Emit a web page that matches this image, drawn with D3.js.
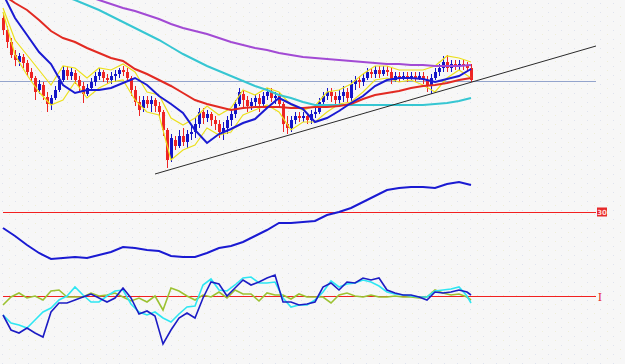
<!DOCTYPE html>
<html>
<head>
<meta charset="utf-8">
<script src="https://cdn.jsdelivr.net/npm/d3@7/dist/d3.min.js"></script>
<style>
    html, body { margin: 0; padding: 0; background: #f7f7f7; }
    svg { display: block; }
</style>
</head>
<body>
<div id="grafico"></div>
<script>
// ==================== DADOS ====================

// velas (índice 0..117)
const aberturas = [
    116.2,115.0,113.8,112.5,111.8,112.3,111.7,110.8,110.2,109.0,
    109.5,108.3,107.6,108.2,109.0,110.0,111.0,110.4,110.7,110.0,
    109.4,108.6,109.2,109.8,110.4,110.8,110.2,110.0,110.4,110.6,
    111.0,110.8,110.2,109.0,107.8,107.2,108.0,107.6,108.0,107.4,
    106.8,105.0,102.2,104.0,103.4,104.4,103.8,104.6,104.8,105.6,
    106.8,106.2,106.6,106.0,105.6,104.8,105.2,106.0,106.6,107.6,
    108.6,108.0,107.4,107.8,108.2,107.6,108.4,108.8,108.2,108.4,
    107.6,105.6,105.2,106.0,106.4,106.2,106.4,106.0,106.6,106.8,
    107.8,108.4,108.8,108.4,108.0,108.4,108.8,108.2,109.6,110.0,
    109.8,110.2,110.8,110.6,111.0,110.6,111.0,110.8,110.0,110.4,
    110.2,110.4,110.2,110.4,110.2,110.4,110.0,109.4,110.2,110.8,
    111.2,111.8,111.2,111.6,111.4,111.6,111.4,111.2
];
const maximos = [
    116.6,115.4,114.2,113.0,112.7,112.6,112.0,111.2,110.4,110.0,
    109.8,108.8,108.5,109.4,110.4,111.4,111.4,111.2,111.0,110.4,
    109.8,109.6,110.2,110.8,111.2,111.0,110.6,110.8,111.0,111.2,
    111.4,111.2,110.4,109.4,108.4,108.4,108.4,108.4,108.2,107.8,
    107.0,105.2,104.6,104.4,105.0,105.2,105.0,105.4,106.2,107.2,
    107.2,107.0,106.8,106.4,106.0,105.8,106.4,107.0,108.0,109.2,
    109.0,108.4,108.2,108.6,108.6,108.8,109.2,109.2,108.8,108.8,
    107.8,106.4,106.4,106.8,106.8,106.8,106.6,107.0,107.2,108.2,
    108.8,109.2,109.2,108.8,109.0,109.4,109.2,110.0,110.4,110.4,
    110.6,111.2,111.2,111.4,111.4,111.4,111.4,111.2,110.8,110.8,
    110.8,110.8,110.8,110.8,110.8,110.8,110.4,110.6,111.2,111.6,
    112.4,112.5,112.0,112.0,112.0,112.0,111.8,111.6
];
const minimos = [
    114.5,113.2,112.2,111.4,111.4,111.2,110.4,109.8,108.0,108.6,
    108.0,106.8,107.0,108.0,108.8,109.8,110.0,110.0,109.6,108.8,
    107.7,108.4,109.0,109.4,110.0,109.8,109.6,109.6,109.8,110.2,
    110.4,110.0,108.4,107.4,106.4,106.8,107.2,106.8,106.8,106.2,
    104.4,101.2,101.8,103.0,103.2,103.4,103.2,104.0,104.2,105.2,
    105.6,105.8,105.4,105.0,104.2,104.0,104.6,105.4,106.2,107.4,
    107.2,106.8,107.0,107.4,106.8,107.2,108.0,107.8,107.6,107.2,
    104.8,104.6,104.8,105.6,105.8,105.8,105.6,105.6,106.2,106.6,
    107.4,108.0,107.8,107.4,107.6,107.8,107.8,107.6,109.0,109.2,
    109.4,110.0,110.2,110.2,110.2,110.4,110.4,109.6,109.8,109.8,
    110.0,109.8,110.0,109.8,110.0,109.6,108.8,108.6,110.0,110.4,
    110.8,110.8,110.8,111.0,111.0,111.0,110.8,109.8
];
const fechos = [
    115.0,113.8,112.5,112.0,112.4,111.7,110.8,110.2,108.8,109.6,
    108.4,107.6,108.2,109.0,110.0,111.0,110.4,110.8,110.0,109.4,
    108.6,109.2,109.8,110.4,110.8,110.2,110.0,110.4,110.6,111.0,
    110.8,110.2,109.0,107.8,107.0,108.0,107.6,108.0,107.4,106.8,
    105.0,102.0,104.2,103.4,104.4,103.8,104.6,104.8,105.6,106.8,
    106.2,106.6,106.0,105.6,104.8,105.2,106.0,106.6,107.6,108.8,
    108.0,107.4,107.8,108.2,107.6,108.4,108.8,108.2,108.4,107.6,
    105.6,105.2,106.0,106.4,106.2,106.4,106.0,106.6,106.8,107.8,
    108.4,108.8,108.4,108.0,108.4,108.8,108.2,109.6,110.0,109.8,
    110.2,110.8,110.6,111.0,110.6,111.0,110.8,110.0,110.4,110.2,
    110.4,110.2,110.4,110.2,110.4,110.0,109.4,110.2,110.8,111.2,
    111.8,111.2,111.6,111.4,111.6,111.4,111.2,110.0
];

// médias móveis, lidas a cada 3 velas
const indicesMedias = [0,3,6,9,12,15,18,21,24,27,30,33,36,39,42,45,48,51,54,57,
                       60,63,66,69,72,75,78,81,84,87,90,93,96,99,102,105,108,111,114,117];
const mediaAzul = [118.6,116.2,114.5,112.8,111.6,109.5,108.7,109.0,109.0,109.2,
                   109.7,110.2,109.5,108.4,107.6,106.7,105.0,103.7,104.6,105.1,
                   105.7,106.1,107.2,108.2,107.6,107.1,105.8,106.2,106.9,107.7,
                   108.4,109.4,110.0,110.2,110.2,110.1,109.8,110.1,110.4,111.1];
const mediaVermelha = [118.5,117.7,117.0,116.0,114.9,114.2,113.8,113.2,112.7,112.2,
                       111.9,111.1,110.6,110.0,109.4,108.7,108.0,107.6,107.3,107.0,
                       107.2,107.3,107.3,107.3,107.2,107.2,107.3,107.3,107.4,107.6,
                       108.1,108.5,108.7,108.9,109.2,109.4,109.5,109.7,110.0,110.2];
const mediaCiano = [121.0,120.5,120.0,119.4,118.9,118.4,118.0,117.5,117.0,116.4,
                    115.8,115.2,114.6,114.0,113.3,112.6,112.0,111.4,110.9,110.4,
                    109.9,109.4,109.0,108.5,108.2,107.8,107.5,107.5,107.5,107.5,
                    107.5,107.5,107.5,107.5,107.5,107.5,107.6,107.7,107.9,108.2];
const mediaRoxa = [121.0,120.6,120.2,119.8,119.4,119.1,118.7,118.4,118.0,117.6,
                   117.2,116.9,116.5,116.1,115.6,115.2,114.9,114.6,114.2,113.8,
                   113.5,113.2,113.0,112.7,112.5,112.3,112.2,112.1,112.0,111.9,
                   111.8,111.7,111.6,111.6,111.5,111.5,111.4,111.4,111.4,111.5];
const bandaSuperior = [117.2,114.0,112.5,111.0,109.5,111.4,111.2,110.2,111.2,111.0,
                       111.6,110.8,108.8,108.5,106.2,105.5,106.2,107.4,106.5,107.2,
                       109.0,108.5,109.2,108.8,107.5,107.0,107.4,108.8,109.0,109.6,
                       110.6,111.4,111.4,111.0,111.0,111.0,111.4,112.4,112.2,111.8];
const bandaInferior = [116.8,112.5,110.5,108.8,107.5,108.0,109.8,108.2,109.2,109.8,
                       110.0,108.0,106.8,106.5,102.0,103.0,103.5,105.2,104.5,104.8,
                       106.5,107.0,107.5,106.8,105.0,105.8,105.8,106.8,107.6,107.8,
                       108.8,110.0,110.2,109.8,110.0,109.5,108.8,110.2,111.0,110.2];

// linha de tendência e nível horizontal
const tendencia = [{i: 38, p: 100.6}, {i: 148.25, p: 113.4}];
const nivelPreco = 109.9;
const fimNiveis = 148.25;

// painel 2 (ADX) — nível 30
const nivelAdx = 30;
const adx = [22.0,18.0,13.5,9.5,6.5,7.0,7.5,7.0,8.5,10.0,
             12.5,12.0,11.0,10.5,8.0,7.5,7.5,9.5,12.0,13.0,
             15.0,18.0,21.0,24.5,24.5,25.0,25.5,28.5,30.0,32.0,
             35.0,38.0,41.0,42.0,42.5,42.5,42.0,44.0,45.0,43.5];

// painel 3 (osciladores), lidos a cada 2 velas
const indicesOsc = [0,2,4,6,8,10,12,14,16,18,20,22,24,26,28,30,32,34,36,38,
                    40,42,44,46,48,50,52,54,56,58,60,62,64,66,68,70,72,74,76,78,
                    80,82,84,86,88,90,92,94,96,98,100,102,104,106,108,110,112,114,116,117];
const oscAzul = [-19,-34,-37,-32,-37,-41,-16,-7,-7,-4,
                 -1,2,-2,-6,-2,8,-2,-18,-15,-20,
                 -48,-34,-22,-17,-22,-2,14,12,0,8,
                 16,11,14,18,21,-6,-6,-9,-8,-6,
                 9,13,6,14,13,18,16,18,6,3,
                 1,1,-1,-4,4,3,4,6,4,1];
const oscCiano = [-19,-27,-29,-32,-24,-16,-12,-4,0,9,
                  1,-6,-6,0,5,6,-8,-16,-19,-16,
                  -22,-26,-18,-11,-10,11,17,6,5,11,
                  18,19,13,13,14,-2,-11,-9,-9,-4,
                  4,15,9,12,13,16,14,10,4,2,
                  1,0,-1,-1,5,6,7,9,0,-7];
const oscVerde = [-9,-1,3,-2,0,-4,5,6,-1,-1,
                  -1,3,0,1,3,-1,-5,-2,-6,0,
                  -14,8,5,0,-4,1,-1,4,-2,6,
                  2,2,-5,3,1,1,-3,2,-1,-1,
                  -1,-7,1,3,0,-1,1,-1,-1,0,
                  -1,-1,-2,-1,6,3,1,2,-1,-4];
const nivelOsc = 0;

// ==================== GRÁFICO ====================

const width = 625, height = 364;

const x = d3.scaleLinear().domain([0, 117]).range([3, 471]);
const y = d3.scaleLinear().domain([100, 118]).range([180, 0]);
const yAdx = d3.scaleLinear().domain([0, 50]).range([272, 172]);
const yOsc = d3.scaleLinear().domain([-50, 50]).range([346, 246]);

const svg = d3.select("#grafico")
    .append("svg")
    .attr("width", width)
    .attr("height", height)
    .attr("viewBox", [0, 0, width, height]);

// fundo com pontilhado leve
const defs = svg.append("defs");
const pat = defs.append("pattern").attr("id", "pontos")
    .attr("width", 13).attr("height", 9).attr("patternUnits", "userSpaceOnUse");
pat.append("rect").attr("width", 13).attr("height", 9).attr("fill", "#f7f7f7");
pat.append("rect").attr("x", 2).attr("y", 3).attr("width", 1).attr("height", 1).attr("fill", "#dfe3ee");
pat.append("rect").attr("x", 9).attr("y", 7).attr("width", 1).attr("height", 1).attr("fill", "#eeeed8");
svg.append("rect").attr("width", width).attr("height", height).attr("fill", "url(#pontos)");

defs.append("clipPath").attr("id", "painel1")
    .append("rect").attr("x", 0).attr("y", 0).attr("width", width).attr("height", 182);

// nível horizontal do preço
svg.append("line")
    .attr("x1", 0).attr("x2", x(fimNiveis))
    .attr("y1", Math.round(y(nivelPreco)) + 0.5).attr("y2", Math.round(y(nivelPreco)) + 0.5)
    .attr("stroke", "#93a4cc").attr("stroke-width", 1);

// velas
const velas = svg.append("g");
fechos.forEach((c, i) => {
    const o = aberturas[i];
    const cor = c >= o ? "#1414c8" : "#ee2424";
    const cx = x(i) + 0.5;
    velas.append("line")
        .attr("x1", cx).attr("x2", cx)
        .attr("y1", y(maximos[i])).attr("y2", y(minimos[i]))
        .attr("stroke", cor).attr("stroke-width", 1);
    const topo = y(Math.max(o, c));
    velas.append("rect")
        .attr("x", x(i) - 1).attr("width", 3)
        .attr("y", topo).attr("height", Math.max(1, y(Math.min(o, c)) - topo))
        .attr("fill", cor);
});

// médias
const linhaMedia = d3.line().x((d, k) => x(indicesMedias[k])).y(d => y(d));
const medias = svg.append("g").attr("clip-path", "url(#painel1)").attr("fill", "none");
medias.append("path").attr("d", linhaMedia(bandaSuperior)).attr("stroke", "#ece01c").attr("stroke-width", 1.2);
medias.append("path").attr("d", linhaMedia(bandaInferior)).attr("stroke", "#ece01c").attr("stroke-width", 1.2);
medias.append("path").attr("d", linhaMedia(mediaRoxa)).attr("stroke", "#a24ad4").attr("stroke-width", 2);
medias.append("path").attr("d", linhaMedia(mediaCiano)).attr("stroke", "#36c6d2").attr("stroke-width", 2);
medias.append("path").attr("d", linhaMedia(mediaVermelha)).attr("stroke", "#e22a22").attr("stroke-width", 2);
medias.append("path").attr("d", linhaMedia(mediaAzul)).attr("stroke", "#1a1ad2").attr("stroke-width", 2);

// linha de tendência
svg.append("line")
    .attr("x1", x(tendencia[0].i)).attr("y1", y(tendencia[0].p))
    .attr("x2", x(tendencia[1].i)).attr("y2", y(tendencia[1].p))
    .attr("stroke", "#2a2a2a").attr("stroke-width", 1);

// painel 2
const yN = Math.round(yAdx(nivelAdx)) + 0.5;
svg.append("line")
    .attr("x1", 3).attr("x2", x(fimNiveis))
    .attr("y1", yN).attr("y2", yN)
    .attr("stroke", "#f22020").attr("stroke-width", 1);
svg.append("rect")
    .attr("x", x(fimNiveis) + 1).attr("y", yN - 5).attr("width", 10).attr("height", 9)
    .attr("fill", "#e62a2a");
svg.append("text")
    .attr("x", x(fimNiveis) + 6).attr("y", yN + 2.5)
    .attr("text-anchor", "middle")
    .attr("font-family", "DejaVu Sans, sans-serif").attr("font-size", 7).attr("font-weight", "bold")
    .attr("fill", "#ffd8d8")
    .text(String(nivelAdx));

svg.append("path")
    .attr("d", d3.line().x((d, k) => x(indicesMedias[k])).y(d => yAdx(d))(adx))
    .attr("fill", "none").attr("stroke", "#1a1ad2").attr("stroke-width", 2);

// painel 3
const yZ = Math.round(yOsc(nivelOsc)) + 0.5;
svg.append("line")
    .attr("x1", 3).attr("x2", x(fimNiveis))
    .attr("y1", yZ).attr("y2", yZ)
    .attr("stroke", "#f22020").attr("stroke-width", 1);
svg.append("text")
    .attr("x", x(fimNiveis) + 4).attr("y", yZ + 4)
    .attr("text-anchor", "middle")
    .attr("font-family", "DejaVu Serif, serif").attr("font-size", 11)
    .attr("fill", "#e62a2a")
    .text("I");

const linhaOsc = d3.line().x((d, k) => x(indicesOsc[k])).y(d => yOsc(d));
const osc = svg.append("g").attr("fill", "none").attr("stroke-width", 1.6);
osc.append("path").attr("d", linhaOsc(oscVerde)).attr("stroke", "#9cc232");
osc.append("path").attr("d", linhaOsc(oscCiano)).attr("stroke", "#2ee6f2");
osc.append("path").attr("d", linhaOsc(oscAzul)).attr("stroke", "#1c1cc4");
</script>
</body>
</html>
